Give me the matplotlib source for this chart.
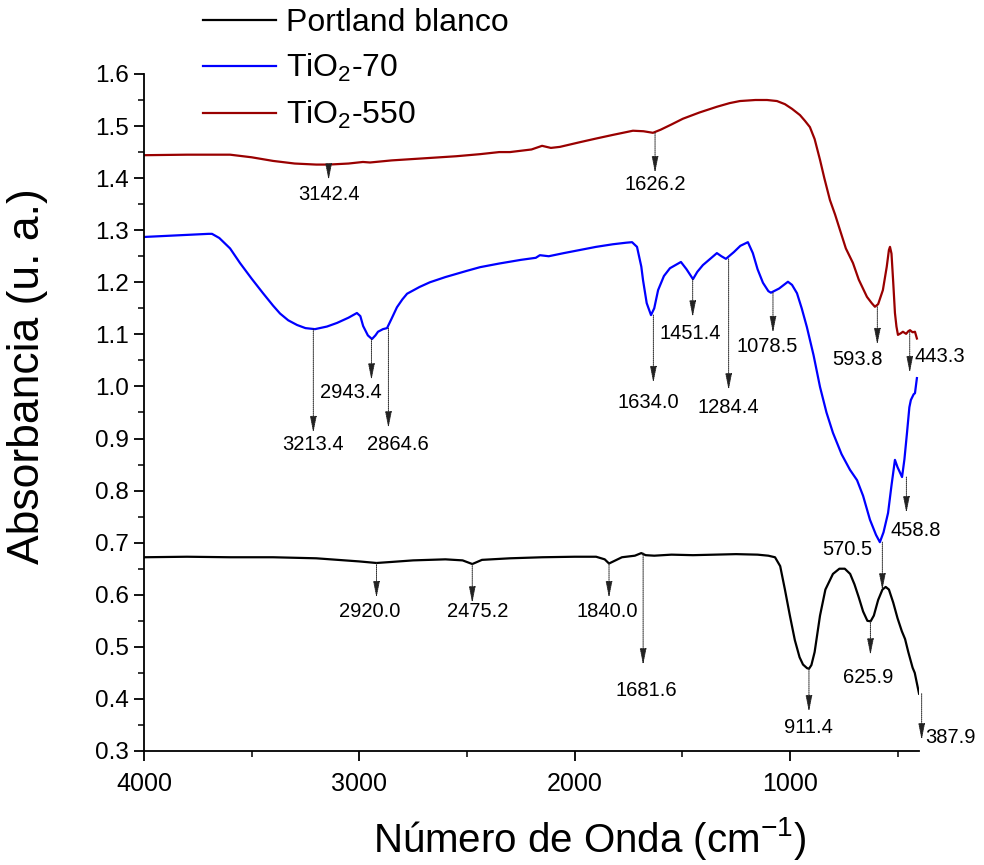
import matplotlib
matplotlib.use("Agg")
import matplotlib.pyplot as plt
from matplotlib.ticker import MultipleLocator, FormatStrFormatter

# --- datos ---
wn_550 = [4000, 3800, 3700, 3600, 3500, 3400, 3300, 3200, 3142, 3050, 2983, 2950, 2850, 2700,
          2550, 2439, 2350, 2300, 2200, 2151, 2110, 2068, 1975, 1900, 1822, 1729, 1680, 1636,
          1600, 1550, 1497, 1420, 1339, 1280, 1232, 1160, 1106, 1060, 1023, 990, 953, 930, 907,
          885, 860, 840, 814, 790, 767, 740, 707, 680, 642, 620, 605, 590, 568, 550, 540, 535,
          528, 520, 512, 505, 498, 485, 475, 460, 450, 442, 430, 419, 410]
abs_550 = [1.444, 1.445, 1.445, 1.445, 1.440, 1.433, 1.428, 1.426, 1.426, 1.428, 1.431, 1.430,
           1.434, 1.438, 1.442, 1.446, 1.450, 1.450, 1.455, 1.462, 1.458, 1.460, 1.469, 1.476,
           1.483, 1.491, 1.490, 1.487, 1.493, 1.503, 1.514, 1.526, 1.537, 1.544, 1.548, 1.550,
           1.550, 1.548, 1.542, 1.533, 1.521, 1.510, 1.498, 1.475, 1.435, 1.400, 1.358, 1.330,
           1.300, 1.265, 1.237, 1.205, 1.172, 1.160, 1.153, 1.158, 1.185, 1.230, 1.262, 1.268,
           1.255, 1.200, 1.141, 1.115, 1.099, 1.102, 1.105, 1.101, 1.106, 1.108, 1.104, 1.105,
           1.092]

wn_70 = [4000, 3900, 3800, 3700, 3684, 3650, 3600, 3554, 3500, 3447, 3400, 3368, 3330, 3289,
         3250, 3206, 3150, 3103, 3050, 3011, 2995, 2982, 2960, 2941, 2925, 2913, 2890, 2871,
         2850, 2825, 2800, 2778, 2720, 2672, 2600, 2500, 2439, 2350, 2250, 2180, 2161, 2120,
         2050, 1975, 1900, 1822, 1760, 1733, 1710, 1690, 1682, 1665, 1645, 1630, 1612, 1585,
         1557, 1506, 1480, 1450, 1430, 1404, 1370, 1339, 1318, 1297, 1260, 1230, 1195, 1172,
         1150, 1125, 1100, 1088, 1050, 1009, 990, 967, 945, 921, 890, 860, 830, 800, 760, 721,
         688, 660, 628, 600, 582, 565, 544, 528, 512, 500, 479, 468, 456, 445, 438, 425, 419, 410]
abs_70 = [1.287, 1.289, 1.291, 1.293, 1.293, 1.285, 1.265, 1.237, 1.207, 1.179, 1.155, 1.140,
          1.127, 1.118, 1.112, 1.110, 1.115, 1.122, 1.132, 1.141, 1.135, 1.116, 1.098, 1.091,
          1.098, 1.105, 1.110, 1.112, 1.130, 1.152, 1.167, 1.178, 1.191, 1.200, 1.210, 1.222,
          1.229, 1.236, 1.243, 1.247, 1.252, 1.250, 1.256, 1.262, 1.268, 1.273, 1.276, 1.277,
          1.268, 1.230, 1.204, 1.160, 1.137, 1.150, 1.185, 1.212, 1.227, 1.239, 1.225, 1.206,
          1.220, 1.233, 1.245, 1.256, 1.250, 1.245, 1.258, 1.270, 1.277, 1.256, 1.225, 1.199,
          1.183, 1.180, 1.188, 1.201, 1.195, 1.179, 1.150, 1.114, 1.060, 0.999, 0.950, 0.911,
          0.870, 0.840, 0.820, 0.790, 0.744, 0.715, 0.701, 0.720, 0.757, 0.810, 0.859, 0.845,
          0.826, 0.860, 0.911, 0.960, 0.974, 0.985, 0.987, 1.016]

wn_pb = [4000, 3800, 3600, 3400, 3200, 3100, 3000, 2920, 2850, 2750, 2600, 2520, 2475, 2430,
         2300, 2150, 2000, 1900, 1860, 1840, 1815, 1780, 1720, 1690, 1670, 1630, 1550, 1450,
         1350, 1250, 1150, 1100, 1069, 1045, 1023, 1000, 977, 955, 939, 920, 911, 900, 885,
         860, 835, 800, 770, 745, 720, 700, 680, 660, 640, 625, 610, 590, 570, 555, 540, 520,
         500, 480, 465, 450, 430, 420, 410, 400]
abs_pb = [0.672, 0.673, 0.672, 0.672, 0.670, 0.667, 0.664, 0.661, 0.663, 0.666, 0.668, 0.666,
          0.659, 0.667, 0.670, 0.672, 0.673, 0.673, 0.668, 0.660, 0.665, 0.672, 0.675, 0.680,
          0.676, 0.675, 0.677, 0.676, 0.677, 0.678, 0.677, 0.675, 0.672, 0.655, 0.610, 0.560,
          0.513, 0.480, 0.466, 0.459, 0.458, 0.465, 0.490, 0.560, 0.610, 0.640, 0.650, 0.650,
          0.640, 0.620, 0.595, 0.568, 0.550, 0.549, 0.560, 0.590, 0.610, 0.615, 0.610, 0.585,
          0.555, 0.530, 0.515, 0.490, 0.460, 0.450, 0.430, 0.410]

# picos: posicion, inicio flecha, punta flecha, texto (x, y), alineacion
pk_label = ["3142.4", "1626.2", "593.8", "443.3",
            "3213.4", "2943.4", "2864.6", "1634.0", "1451.4", "1284.4", "1078.5", "570.5", "458.8",
            "2920.0", "2475.2", "1840.0", "1681.6", "911.4", "625.9", "387.9"]
pk_x = [3142.4, 1626.2, 593.8, 443.3,
        3213.4, 2943.4, 2864.6, 1634.0, 1451.4, 1284.4, 1078.5, 570.5, 458.8,
        2920.0, 2475.2, 1840.0, 1681.6, 911.4, 625.9, 387.9]
pk_y0 = [1.426, 1.487, 1.153, 1.105,
         1.110, 1.091, 1.112, 1.137, 1.206, 1.245, 1.180, 0.701, 0.826,
         0.661, 0.659, 0.660, 0.680, 0.458, 0.549, 0.410]
pk_y1 = [1.396, 1.410, 1.080, 1.026,
         0.911, 1.012, 0.920, 1.007, 1.133, 0.993, 1.103, 0.609, 0.757,
         0.594, 0.584, 0.594, 0.465, 0.375, 0.484, 0.321]
txt_x = [3142.4, 1626.2, 684, 419,
         3213.4, 3039, 2820, 1659, 1464, 1288, 1106, 619, 414,
         2950, 2449, 1850, 1668, 916, 637, 373]
txt_y = [1.368, 1.387, 1.051, 1.057,
         0.888, 0.989, 0.888, 0.970, 1.102, 0.959, 1.076, 0.686, 0.724,
         0.567, 0.567, 0.567, 0.417, 0.346, 0.442, 0.325]
txt_ha = ["center", "center", "center", "left",
          "center", "center", "center", "center", "center", "center", "center", "right", "center",
          "center", "center", "center", "center", "center", "center", "left"]

plt.rcParams["font.family"] = ["Liberation Sans", "DejaVu Sans"]
plt.rcParams["mathtext.fontset"] = "custom"
plt.rcParams["mathtext.rm"] = "Liberation Sans"
plt.rcParams["mathtext.it"] = "Liberation Sans:italic"

fig = plt.figure(figsize=(9.84, 8.65), dpi=100)
ax = fig.add_axes([0.1463, 0.1318, 0.7877, 0.7827])

ax.plot(wn_pb, abs_pb, color="black", lw=1.6, label="Portland blanco")
ax.plot(wn_70, abs_70, color="#0000ff", lw=1.6, label="TiO$_2$-70")
ax.plot(wn_550, abs_550, color="#990000", lw=1.6, label="TiO$_2$-550")

for i in range(len(pk_x)):
    ax.annotate("", xy=(pk_x[i], pk_y1[i]), xytext=(pk_x[i], pk_y0[i]),
                annotation_clip=False,
                arrowprops=dict(arrowstyle="-|>,head_width=0.2,head_length=1.0",
                                color="#222222", lw=0.7, ls=(0, (1, 1)),
                                shrinkA=0, shrinkB=0))
    ax.text(txt_x[i], txt_y[i], pk_label[i], ha=txt_ha[i], va="center",
            fontsize=14.5, clip_on=False)

ax.set_xlim(4000, 400)
ax.set_ylim(0.3, 1.6)
ax.xaxis.set_major_locator(MultipleLocator(1000))
ax.xaxis.set_minor_locator(MultipleLocator(500))
ax.yaxis.set_major_locator(MultipleLocator(0.1))
ax.yaxis.set_minor_locator(MultipleLocator(0.05))
ax.yaxis.set_major_formatter(FormatStrFormatter("%.1f"))

ax.spines["top"].set_visible(False)
ax.spines["right"].set_visible(False)
ax.spines["left"].set_linewidth(1.3)
ax.spines["bottom"].set_linewidth(1.3)
ax.tick_params(which="major", direction="out", length=7, width=1.3)
ax.tick_params(which="minor", direction="out", length=4, width=1.1)
ax.tick_params(axis="y", labelsize=17.5, pad=4)
ax.tick_params(axis="x", labelsize=18, pad=8)

ax.set_xlabel("Número de Onda (cm$^{-1}$)", fontsize=29)
ax.set_ylabel("Absorbancia (u. a.)", fontsize=32)
ax.xaxis.set_label_coords(0.575, -0.095)
ax.yaxis.set_label_coords(-0.124, 0.554)

fig.legend(loc="upper left", bbox_to_anchor=(203 / 984, 1 - 8 / 865), frameon=False,
           fontsize=23, handlelength=2.3, handletextpad=0.3, labelspacing=0.45,
           borderpad=0, borderaxespad=0)

fig.savefig("out.png", dpi=100)
